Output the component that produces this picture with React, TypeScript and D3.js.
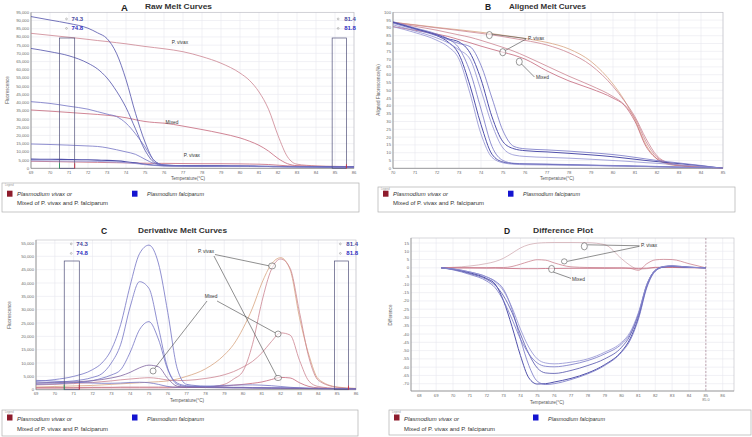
import React from "react";
import * as d3 from "d3";

const FONT = "'Liberation Sans', Arial, Helvetica, sans-serif";

// ---------------- Panel A: Raw Melt Curves (fluorescence, thousands) ----------------
const tempA = [69, 70, 71, 72, 72.5, 73, 73.5, 74, 74.5, 75, 75.5, 76, 77, 78, 79, 80, 80.5, 81, 81.5, 82, 82.5, 83, 84, 85, 86];
const rawFal1 = [92.4, 90.3, 88.2, 85.3, 82.5, 79, 70, 54, 33.5, 16, 4.5, 2.0, 1.6, 1.5, 1.4, 1.3, 1.3, 1.2, 1.2, 1.1, 1.1, 1.0, 0.9, 0.8, 0.8];
const rawFal2 = [73, 71, 68.5, 64, 60.5, 55, 47, 37, 24, 11, 3.5, 1.9, 1.5, 1.4, 1.3, 1.3, 1.2, 1.2, 1.1, 1.1, 1.0, 1.0, 0.9, 0.8, 0.8];
const rawFal3 = [40.6, 39.5, 37.8, 36, 34.5, 33, 31.5, 27.5, 21, 13, 4.5, 2, 1.6, 1.5, 1.4, 1.3, 1.3, 1.2, 1.2, 1.1, 1.1, 1.0, 0.9, 0.8, 0.8];
const rawFal4 = [14.8, 14.5, 14.1, 13.6, 13.3, 12.5, 11.3, 10, 8.5, 5.5, 2.8, 1.8, 1.5, 1.4, 1.3, 1.3, 1.2, 1.2, 1.1, 1.1, 1.0, 1.0, 0.9, 0.8, 0.8];
const rawFal5 = [5.6, 5.5, 5.4, 5.2, 5.0, 4.8, 4.5, 4.0, 3.3, 2.5, 1.9, 1.6, 1.4, 1.3, 1.3, 1.2, 1.2, 1.1, 1.1, 1.0, 1.0, 0.9, 0.9, 0.8, 0.7];
const rawFal6 = [4.6, 4.5, 4.4, 4.3, 4.2, 4.0, 3.8, 3.4, 2.9, 2.2, 1.7, 1.4, 1.2, 1.2, 1.1, 1.1, 1.1, 1.0, 1.0, 1.0, 0.9, 0.9, 0.8, 0.7, 0.7];
const rawViv1 = [82.2, 81, 79.8, 78.5, 77.8, 77.2, 76.5, 75.8, 75, 74.2, 73.5, 72.8, 71, 68, 64, 58, 53.5, 46.5, 36, 20, 7, 2.5, 1.5, 1.2, 1.0];
const rawMix1 = [35.5, 34.8, 34, 33.2, 32.8, 32.3, 31.7, 30.8, 29.6, 28.5, 27.9, 27.5, 25.7, 23.6, 21.3, 18.5, 16.5, 14, 10.5, 6, 2.8, 1.6, 1.2, 1.0, 0.9];
const rawViv2 = [4.3, 4.1, 3.9, 3.7, 3.6, 3.5, 3.4, 3.3, 3.2, 3.1, 3.0, 3.0, 2.9, 2.8, 2.8, 2.7, 2.6, 2.5, 2.3, 1.9, 1.5, 1.3, 1.1, 1.0, 0.9];
const xTicksA = [69, 70, 71, 72, 73, 74, 75, 76, 77, 78, 79, 80, 81, 82, 83, 84, 85, 86];
const yTicksA = [0, 5, 10, 15, 20, 25, 30, 35, 40, 45, 50, 55, 60, 65, 70, 75, 80, 85, 90, 95];

// ---------------- Panel B: Aligned Melt Curves (%) ----------------
const tempB = [70, 71, 72, 72.5, 73, 73.5, 74, 74.5, 75, 75.5, 76, 77, 78, 79, 80, 80.5, 81, 81.5, 82, 82.5, 83, 84, 85];
const aliFal1 = [93.6, 89.5, 85, 81, 73, 53, 28, 9, 4, 3, 2.7, 2.5, 2.2, 1.9, 1.6, 1.5, 1.3, 1.2, 1.0, 0.9, 0.7, 0.4, 0];
const aliFal2 = [94, 90, 86, 83, 77, 62, 38, 14, 5, 3.2, 2.9, 2.7, 2.4, 2.1, 1.8, 1.7, 1.5, 1.4, 1.2, 1.0, 0.8, 0.4, 0];
const aliFal3 = [90.8, 87, 82, 78, 70, 48, 22, 7, 3.5, 2.6, 2.3, 2.1, 1.9, 1.7, 1.5, 1.4, 1.2, 1.1, 0.9, 0.8, 0.6, 0.3, 0];
const aliFal4 = [93.6, 89.5, 85.5, 83, 81, 74, 57, 33, 17, 12.5, 11.3, 10.5, 9.6, 8.6, 7.4, 6.6, 5.8, 5, 4.3, 3.6, 3, 1.6, 0];
const aliFal5 = [93, 89, 85, 82.5, 80, 78, 66, 45, 24, 14, 12.5, 11.8, 11, 10, 8.8, 8, 7, 6, 5, 4.2, 3.4, 1.8, 0];
const aliFal6 = [92, 88, 83.5, 80.5, 76, 70, 50, 28, 13, 8.5, 7.6, 7, 6.5, 5.8, 5, 4.6, 4.1, 3.6, 3.2, 2.7, 2.2, 1.2, 0];
const aliViv1 = [93.6, 92, 90.3, 89.5, 88.8, 88, 87.2, 86.3, 85.3, 84.3, 83.2, 80.7, 76.5, 68.5, 54, 44, 31, 15, 6, 2.6, 1.6, 0.8, 0];
const aliViv2 = [93.6, 91.8, 90, 89.2, 88.3, 87.4, 86.5, 85.5, 84.4, 83.2, 82, 79, 74, 66, 52.5, 43.5, 33, 19, 8, 3.5, 2, 1, 0];
const aliMix1 = [90.8, 88.5, 86, 84.5, 82.5, 80.5, 78.3, 76.3, 74.4, 72.5, 70, 62.4, 56, 51, 45, 40.6, 30, 14, 6, 3, 1.8, 0.9, 0];
const aliMix2 = [93.6, 91, 88.5, 87, 85.5, 84, 82, 79.8, 77.5, 75, 72, 65.5, 59, 53, 46, 41, 32, 17, 7, 3.5, 2, 1, 0];
const xTicksB = [70, 71, 72, 73, 74, 75, 76, 77, 78, 79, 80, 81, 82, 83, 84, 85];
const yTicksB = [0, 5, 10, 15, 20, 25, 30, 35, 40, 45, 50, 55, 60, 65, 70, 75, 80, 85, 90, 95, 100];

// ---------------- Panel C: Derivative Melt Curves (thousands) ----------------
const tempC = [69, 70, 71, 72, 72.5, 73, 73.5, 74, 74.5, 75, 75.5, 76, 76.5, 77, 78, 79, 79.5, 80, 80.5, 81, 81.5, 82, 82.5, 83, 83.5, 84, 85, 86];
const derFal1 = [3.1, 3.8, 5, 7.5, 10, 15, 24.5, 39, 51, 54.2, 47.5, 29, 8, 2, 1.3, 1.0, 0.9, 0.9, 0.8, 0.8, 0.7, 0.7, 0.6, 0.6, 0.5, 0.5, 0.4, 0.3];
const derFal2 = [2.5, 2.8, 3.3, 4.6, 6, 10, 17, 31, 40.5, 38, 23.5, 8, 2.5, 1.5, 1.1, 0.9, 0.8, 0.8, 0.7, 0.7, 0.6, 0.6, 0.6, 0.5, 0.5, 0.5, 0.4, 0.3];
const derFal3 = [2.0, 2.2, 2.6, 3.4, 4.3, 5.5, 7.5, 14, 22.5, 25.5, 19, 7.5, 2, 1.2, 0.9, 0.8, 0.7, 0.7, 0.7, 0.6, 0.6, 0.6, 0.5, 0.5, 0.5, 0.4, 0.4, 0.3];
const derFal4 = [2.5, 2.6, 2.9, 3.4, 3.8, 4.4, 5.2, 6.5, 8.2, 9.2, 8.6, 4.2, 1.3, 0.9, 0.8, 0.7, 0.7, 0.7, 0.6, 0.6, 0.6, 0.5, 0.5, 0.5, 0.4, 0.4, 0.3, 0.3];
const derFal5 = [3.5, 3.2, 2.8, 2.5, 2.4, 2.4, 2.5, 2.7, 2.8, 2.6, 2.0, 1.2, 0.9, 1.0, 1.3, 1.6, 1.7, 1.8, 1.8, 1.7, 1.5, 1.2, 0.9, 0.7, 0.5, 0.4, 0.3, 0.2];
const derViv1 = [1.0, 1.2, 1.4, 1.6, 1.8, 2.0, 2.2, 2.4, 2.6, 2.8, 3.0, 3.3, 4, 5, 7.8, 13, 17, 23, 30.6, 40, 47, 49.5, 45, 27, 13, 4, 1.0, 0.5];
const derViv2 = [0.8, 0.8, 0.8, 0.9, 0.9, 0.9, 1.0, 1.0, 1.0, 1.0, 1.0, 1.0, 1.0, 1.0, 1.0, 2, 4, 7, 17, 33, 45, 49, 45.5, 29, 12, 3.5, 0.9, 0.4];
const derMix1 = [1.8, 2.0, 2.3, 2.7, 3.0, 3.3, 3.7, 4.0, 4.3, 4.5, 4.2, 3.6, 3.4, 3.5, 4.2, 5.6, 6.8, 8.5, 10.6, 13.8, 18, 21.3, 20.5, 11, 3.2, 1.2, 0.5, 0.3];
const derViv3 = [0.6, 0.6, 0.6, 0.7, 0.7, 0.7, 0.7, 0.7, 0.7, 0.7, 0.7, 0.7, 0.8, 0.8, 1.0, 1.4, 1.7, 2.0, 2.4, 2.9, 3.8, 4.6, 4.4, 2.6, 1.2, 0.7, 0.4, 0.3];
const xTicksC = [69, 70, 71, 72, 73, 74, 75, 76, 77, 78, 79, 80, 81, 82, 83, 84, 85, 86];
const yTicksC = [0, 5, 10, 15, 20, 25, 30, 35, 40, 45, 50, 55];

// ---------------- Panel D: Difference Plot ----------------
const tempD = [69.3, 70, 71, 72, 72.5, 73, 73.5, 74, 74.5, 75, 75.5, 76, 77, 78, 79, 80, 80.5, 81, 81.5, 82, 82.5, 83, 84, 85];
const difFal1 = [0, -0.8, -3, -6.5, -9.8, -20, -35.5, -53, -66.5, -70.2, -70, -69, -66.8, -63.5, -58.5, -50.5, -43, -30, -11, -1.5, 0.5, 0.8, 0.3, 0];
const difFal2 = [0, -0.6, -2.5, -5.5, -8, -13, -25, -43, -59, -68.5, -70.5, -70, -67.5, -64, -59, -51, -44, -31, -12, -2, 0.5, 1, 0.3, 0];
const difFal3 = [0, -1, -3.5, -7, -10.5, -17, -27, -40, -52, -60.5, -63.5, -63.8, -62, -59, -55, -48, -41, -28, -10, -1.5, 0.8, 1.2, 0.4, 0];
const difFal4 = [0, -1.2, -4, -8, -12, -20, -31, -43, -52, -57.5, -59.5, -59.8, -58.5, -56, -52, -46, -40, -28, -11, -2, 0.6, 1, 0.3, 0];
const difFal5 = [0, -0.7, -2.5, -5.5, -8.5, -14, -24, -37, -48, -55, -57.5, -58, -57, -55, -51, -45, -39, -27, -10, -1.5, 0.8, 1.2, 0.4, 0];
const difViv1 = [0, 0.3, 1.1, 2.6, 3.8, 5.8, 8.8, 12, 14, 14.9, 15.2, 15.3, 15.3, 15.2, 14, 5.5, 1.5, -0.8, -0.5, 0, 0.2, 0.2, 0.1, 0];
const difViv2 = [0, 0, 0.1, 0.1, 0.2, 0.2, 0.8, 2.2, 3.8, 4.9, 4.6, 3, 0.6, 0.2, 0.1, 0, -0.3, -1.5, 2.5, 4.8, 5.1, 5.0, 2.5, 0];
const difMix1 = [0, 0, -0.1, -0.2, -0.2, -0.3, -0.4, -0.5, -0.5, -0.5, -0.4, -0.4, -0.3, -0.3, -0.3, -0.2, -0.2, -0.3, -0.2, 0.3, 0.3, 0.2, 0.1, 0];
const xTicksD = [68, 69, 70, 71, 72, 73, 74, 75, 76, 77, 78, 79, 80, 81, 82, 83, 84, 85, 86];
const yTicksD = [15, 10, 5, 0, -5, -10, -15, -20, -25, -30, -35, -40, -45, -50, -55, -60, -65, -70];
const refLineD = [85.0];

// Tm markers and normalisation regions
const tmLeft = ["74.3", "74.8"];
const tmRight = ["81.4", "81.8"];
const regions = [[70.5, 71.3], [84.85, 85.6]];

const legendRed = ["Plasmodium vivax or", "Mixed of P. vivax and P. falciparum"];
const legendBlue = "Plasmodium falciparum";

const BLUE = "#5050aa";
const BLUE2 = "#7474c4";
const BLUE3 = "#9090d2";
const RED = "#c4667a";
const RED2 = "#cc8490";
const ORANGE = "#d8a580";
const PINK = "#d2adb4";

type S = { xs: number[]; ys: number[]; c: string; w?: number };

type PanelProps = {
  id: string;
  frame: { x0: number; x1: number; y0: number; y1: number };
  xDomain: number[]; xRange: number[];
  yDomain: number[]; yRange: number[];
  xTicks: number[]; yTicks: number[];
  yFmt: (v: number) => string;
  series: S[];
  extras?: (x: d3.ScaleLinear<number, number>, y: d3.ScaleLinear<number, number>) => React.ReactNode;
};

function Panel(p: PanelProps) {
  const x = d3.scaleLinear().domain(p.xDomain).range(p.xRange);
  const y = d3.scaleLinear().domain(p.yDomain).range(p.yRange);
  const f = p.frame;
  const mk = (s: S) =>
    d3.line<number>().x((_, i) => x(s.xs[i])).y((d) => y(d)).curve(d3.curveMonotoneX)(s.ys) || "";
  return (
    <g>
      <defs>
        <clipPath id={"clip" + p.id}>
          <rect x={f.x0} y={f.y0} width={f.x1 - f.x0} height={f.y1 - f.y0} />
        </clipPath>
      </defs>
      <rect x={f.x0} y={f.y0} width={f.x1 - f.x0} height={f.y1 - f.y0} fill="#fff" />
      {p.xTicks.map((t) => (
        <line key={"gx" + t} x1={x(t)} x2={x(t)} y1={f.y0} y2={f.y1} stroke="#e8e8ee" strokeWidth={0.6} />
      ))}
      {p.yTicks.map((t) => (
        <line key={"gy" + t} x1={f.x0} x2={f.x1} y1={y(t)} y2={y(t)} stroke="#e8e8ee" strokeWidth={0.6} />
      ))}
      <rect x={f.x0} y={f.y0} width={f.x1 - f.x0} height={f.y1 - f.y0} fill="none" stroke="#bcbcc4" strokeWidth={0.6} />
      <line x1={f.x0} x2={f.x1} y1={f.y1} y2={f.y1} stroke="#8a8a8a" strokeWidth={0.7} />
      <line x1={f.x0} x2={f.x0} y1={f.y0} y2={f.y1} stroke="#8a8a8a" strokeWidth={0.7} />
      {p.xTicks.map((t) => (
        <text key={"tx" + t} x={x(t)} y={f.y1 + 5.6} fontSize={4.2} fill="#6a6a6a" textAnchor="middle" fontFamily={FONT}>
          {t}
        </text>
      ))}
      {p.yTicks.map((t) => (
        <text key={"ty" + t} x={f.x0 - 2} y={y(t) + 1.5} fontSize={4.2} fill="#6a6a6a" textAnchor="end" fontFamily={FONT}>
          {p.yFmt(t)}
        </text>
      ))}
      <g clipPath={`url(#clip${p.id})`}>
        {p.series.map((s, i) => (
          <path key={i} d={mk(s)} fill="none" stroke={s.c} strokeWidth={s.w ?? 0.8} />
        ))}
      </g>
      {p.extras ? p.extras(x, y) : null}
    </g>
  );
}

function Legend({ x, y, w, h, sq, t1y, t2y, bx }: { x: number; y: number; w: number; h: number; sq: number; t1y: number; t2y: number; bx: number }) {
  return (
    <g fontFamily={FONT}>
      <rect x={x} y={y} width={w} height={h} fill="#fff" stroke="#b0b0b0" strokeWidth={0.7} />
      <text x={x + 3} y={y + 2.6} fontSize={2.6} fill="#999">Legend</text>
      <rect x={x + 5} y={sq} width={5.5} height={6} fill="#8e1c2c" />
      <text x={x + 15} y={t1y} fontSize={4.8} fontStyle="italic" fill="#333" textLength={55} lengthAdjust="spacingAndGlyphs">
        {legendRed[0]}
      </text>
      <text x={x + 15} y={t2y} fontSize={4.8} fill="#333" textLength={91} lengthAdjust="spacingAndGlyphs">
        {legendRed[1]}
      </text>
      <rect x={x + bx} y={sq} width={5.5} height={6} fill="#1414d0" />
      <text x={x + bx + 15} y={t1y} fontSize={4.8} fontStyle="italic" fill="#333" textLength={57} lengthAdjust="spacingAndGlyphs">
        {legendBlue}
      </text>
    </g>
  );
}

function Oval({ cx, cy, rx = 3, ry = 3.6 }: { cx: number; cy: number; rx?: number; ry?: number }) {
  return <ellipse cx={cx} cy={cy} rx={rx} ry={ry} fill="#fff" fillOpacity={0.6} stroke="#555" strokeWidth={0.6} />;
}

function TmMarks({ x, top, bottom, yl }: { x: d3.ScaleLinear<number, number>; top: number; bottom: number; yl: number }) {
  return (
    <g fontFamily={FONT}>
      {regions.map((r, i) => (
        <rect key={i} x={x(r[0])} y={top} width={x(r[1]) - x(r[0])} height={bottom - top} fill="none" stroke="#50507a" strokeWidth={0.7} />
      ))}
      <line x1={x(regions[0][0])} x2={x(regions[0][0])} y1={bottom - 5} y2={bottom} stroke="#2a9a5a" strokeWidth={0.9} />
      <line x1={x(regions[0][1])} x2={x(regions[0][1])} y1={bottom - 5} y2={bottom} stroke="#d03040" strokeWidth={0.9} />
      <line x1={x(regions[1][1])} x2={x(regions[1][1])} y1={bottom - 4} y2={bottom} stroke="#d03040" strokeWidth={0.9} />
      {tmLeft.map((t, i) => (
        <g key={t}>
          <circle cx={x(regions[0][0]) + 7} cy={yl + i * 9.5 - 1.6} r={0.9} fill="none" stroke="#888" strokeWidth={0.5} />
          <text x={x(regions[0][0]) + 12} y={yl + i * 9.5} fontSize={6} fontWeight="bold" fill={i === 0 ? "#4a4aa0" : "#3030c0"}>{t}</text>
        </g>
      ))}
      {tmRight.map((t, i) => (
        <g key={t}>
          <circle cx={x(regions[1][0]) + 6} cy={yl + i * 9.5 - 1.6} r={0.9} fill="none" stroke="#888" strokeWidth={0.5} />
          <text x={x(regions[1][0]) + 12} y={yl + i * 9.5} fontSize={6} fontWeight="bold" fill={i === 0 ? "#4a4aa0" : "#3030c0"}>{t}</text>
        </g>
      ))}
    </g>
  );
}

const annoFont = { fontFamily: FONT, fontSize: 4.8, fill: "#333" } as const;

export default function App() {
  const seriesA: S[] = [
    { xs: tempA, ys: rawViv1, c: RED2 },
    { xs: tempA, ys: rawMix1, c: RED },
    { xs: tempA, ys: rawViv2, c: RED },
    { xs: tempA, ys: rawFal1, c: BLUE },
    { xs: tempA, ys: rawFal2, c: BLUE },
    { xs: tempA, ys: rawFal3, c: BLUE2 },
    { xs: tempA, ys: rawFal4, c: BLUE2 },
    { xs: tempA, ys: rawFal5, c: BLUE, w: 1.1 },
    { xs: tempA, ys: rawFal6, c: BLUE3 },
  ];
  const seriesB: S[] = [
    { xs: tempB, ys: aliViv1, c: ORANGE },
    { xs: tempB, ys: aliViv2, c: RED2 },
    { xs: tempB, ys: aliMix1, c: RED },
    { xs: tempB, ys: aliMix2, c: RED2 },
    { xs: tempB, ys: aliFal1, c: BLUE, w: 1 },
    { xs: tempB, ys: aliFal2, c: BLUE2 },
    { xs: tempB, ys: aliFal3, c: BLUE3 },
    { xs: tempB, ys: aliFal4, c: BLUE, w: 1 },
    { xs: tempB, ys: aliFal5, c: BLUE2 },
    { xs: tempB, ys: aliFal6, c: BLUE3 },
  ];
  const seriesC: S[] = [
    { xs: tempC, ys: derViv1, c: ORANGE },
    { xs: tempC, ys: derViv2, c: RED2 },
    { xs: tempC, ys: derMix1, c: RED2 },
    { xs: tempC, ys: derViv3, c: RED },
    { xs: tempC, ys: derFal5, c: BLUE2 },
    { xs: tempC, ys: derFal1, c: BLUE2 },
    { xs: tempC, ys: derFal2, c: BLUE2 },
    { xs: tempC, ys: derFal3, c: BLUE2 },
    { xs: tempC, ys: derFal4, c: "#7e62a0" },
  ];
  const seriesD: S[] = [
    { xs: tempD, ys: difViv1, c: PINK },
    { xs: tempD, ys: difViv2, c: RED2 },
    { xs: tempD, ys: difMix1, c: RED },
    { xs: tempD, ys: difFal1, c: BLUE, w: 1 },
    { xs: tempD, ys: difFal2, c: BLUE2 },
    { xs: tempD, ys: difFal3, c: BLUE },
    { xs: tempD, ys: difFal4, c: BLUE2 },
    { xs: tempD, ys: difFal5, c: BLUE3 },
  ];
  const fmtK = (v: number) => d3.format(",")(v * 1000);

  return (
    <svg width={752} height={437} viewBox="0 0 752 437" style={{ display: "block", position: "absolute", left: 0, top: 0, background: "#fff" }}>
      <rect x={0} y={0} width={752} height={437} fill="#fff" />
      {/* Panel A */}
      <text x={121} y={10.5} fontSize={9.5} fontWeight="bold" fontFamily={FONT} fill="#222">A</text>
      <text x={145} y={8.6} fontSize={7} fontWeight="bold" fontFamily={FONT} fill="#333" textLength={67} lengthAdjust="spacingAndGlyphs">Raw Melt Curves</text>
      <Panel
        id="A"
        frame={{ x0: 31, x1: 354, y0: 12.3, y1: 168.3 }}
        xDomain={[69, 86]} xRange={[31, 354]}
        yDomain={[0, 95]} yRange={[168.3, 12.3]}
        xTicks={xTicksA} yTicks={yTicksA} yFmt={fmtK}
        series={seriesA}
        extras={(x, y) => (
          <g>
            <TmMarks x={x} top={38} bottom={168.3} yl={20.5} />
            <text {...annoFont} x={x(76.84)} y={y(75.7)} textAnchor="middle">P. vivax</text>
            <text {...annoFont} x={x(76.42)} y={y(27)} textAnchor="middle">Mixed</text>
            <text {...annoFont} x={x(77.47)} y={y(6.9)} textAnchor="middle">P. vivax</text>
          </g>
        )}
      />
      <text x={188} y={179.5} fontSize={4.6} fontFamily={FONT} fill="#555" textAnchor="middle">Temperature(°C)</text>
      <text transform="translate(8.5,90) rotate(-90)" fontSize={4.6} fontFamily={FONT} fill="#555" textAnchor="middle">Fluorescence</text>
      <Legend x={2} y={183} w={357} h={29} sq={190.7} t1y={196} t2y={204.5} bx={130} />

      {/* Panel B */}
      <text x={485} y={9.5} fontSize={8.5} fontWeight="bold" fontFamily={FONT} fill="#222">B</text>
      <text x={509} y={8.6} fontSize={7} fontWeight="bold" fontFamily={FONT} fill="#333" textLength={77} lengthAdjust="spacingAndGlyphs">Aligned Melt Curves</text>
      <Panel
        id="B"
        frame={{ x0: 393, x1: 723, y0: 12.3, y1: 168.3 }}
        xDomain={[70, 85]} xRange={[393, 723]}
        yDomain={[0, 100]} yRange={[168.3, 12.3]}
        xTicks={xTicksB} yTicks={yTicksB} yFmt={(v) => String(v)}
        series={seriesB}
        extras={(x, y) => (
          <g>
            <line x1={x(74.38) + 2} y1={y(85.4) - 1} x2={x(76.14) - 2} y2={y(82.2) - 1.5} stroke="#444" strokeWidth={0.6} />
            <line x1={x(74.99) + 2} y1={y(74.4) - 1.5} x2={x(76.14) - 2} y2={y(82.2) - 1} stroke="#444" strokeWidth={0.6} />
            <line x1={x(75.74) + 2} y1={y(68.3) + 2} x2={x(76.5) - 1.5} y2={y(57.2) - 2} stroke="#444" strokeWidth={0.6} />
            <Oval cx={x(74.38)} cy={y(85.4)} />
            <Oval cx={x(74.99)} cy={y(74.4)} />
            <Oval cx={x(75.74)} cy={y(68.3)} />
            <text {...annoFont} x={x(76.14)} y={y(82.2)}>P. vivax</text>
            <text {...annoFont} x={x(76.5)} y={y(57.2)}>Mixed</text>
          </g>
        )}
      />
      <text x={557} y={179.5} fontSize={4.6} fontFamily={FONT} fill="#555" textAnchor="middle">Temperature(°C)</text>
      <text transform="translate(380,90) rotate(-90)" fontSize={4.6} fontFamily={FONT} fill="#555" textAnchor="middle">Aligned Fluorescence(%)</text>
      <Legend x={378} y={187} w={357} h={25} sq={190.7} t1y={196} t2y={204.5} bx={130} />

      {/* Panel C */}
      <text x={101} y={233.5} fontSize={8.5} fontWeight="bold" fontFamily={FONT} fill="#222">C</text>
      <text x={138} y={232.5} fontSize={7} fontWeight="bold" fontFamily={FONT} fill="#333" textLength={89} lengthAdjust="spacingAndGlyphs">Derivative Melt Curves</text>
      <Panel
        id="C"
        frame={{ x0: 36, x1: 356, y0: 240, y1: 389.7 }}
        xDomain={[69, 86]} xRange={[36, 356]}
        yDomain={[0, 55]} yRange={[389.7, 243]}
        xTicks={xTicksC} yTicks={yTicksC} yFmt={fmtK}
        series={seriesC}
        extras={(x, y) => (
          <g>
            <TmMarks x={x} top={261} bottom={389.7} yl={245.5} />
            <line x1={x(78.03) + 9} y1={y(51.25) + 1.5} x2={x(81.54) - 2.5} y2={y(46.4)} stroke="#444" strokeWidth={0.6} />
            <line x1={x(78.03) + 8} y1={y(51.25) + 3} x2={x(81.86) - 1.5} y2={y(4.39) - 2} stroke="#444" strokeWidth={0.6} />
            <line x1={x(78.3) - 4} y1={y(34.38) + 3} x2={x(75.22) + 1.5} y2={y(7.01) - 2.5} stroke="#444" strokeWidth={0.6} />
            <line x1={x(78.3) + 6} y1={y(34.38) + 3} x2={x(81.86) - 2.5} y2={y(20.88) - 1} stroke="#444" strokeWidth={0.6} />
            <Oval cx={x(81.54)} cy={y(46.4)} rx={3.5} ry={3} />
            <Oval cx={x(81.86)} cy={y(4.39)} rx={3.5} ry={2.6} />
            <Oval cx={x(75.22)} cy={y(7.01)} rx={3} ry={3} />
            <Oval cx={x(81.86)} cy={y(20.88)} rx={3} ry={3} />
            <text {...annoFont} x={x(78.03)} y={y(51.25)} textAnchor="middle">P. vivax</text>
            <text {...annoFont} x={x(78.3)} y={y(34.38)} textAnchor="middle">Mixed</text>
          </g>
        )}
      />
      <text x={187} y={402} fontSize={4.6} fontFamily={FONT} fill="#555" textAnchor="middle">Temperature(°C)</text>
      <text transform="translate(11,315) rotate(-90)" fontSize={4.6} fontFamily={FONT} fill="#555" textAnchor="middle">Fluorescence</text>
      <Legend x={2} y={410} w={356} h={26} sq={414.5} t1y={420.5} t2y={430.5} bx={130} />

      {/* Panel D */}
      <text x={504} y={233.5} fontSize={8.5} fontWeight="bold" fontFamily={FONT} fill="#222">D</text>
      <text x={533} y={232.5} fontSize={7} fontWeight="bold" fontFamily={FONT} fill="#333" textLength={60} lengthAdjust="spacingAndGlyphs">Difference Plot</text>
      <Panel
        id="D"
        frame={{ x0: 411, x1: 734, y0: 238, y1: 391 }}
        xDomain={[68, 86]} xRange={[419.3, 722.7]}
        yDomain={[-70, 15]} yRange={[383.7, 243]}
        xTicks={xTicksD} yTicks={yTicksD} yFmt={(v) => String(v)}
        series={seriesD}
        extras={(x, y) => (
          <g>
            {refLineD.map((t) => (
              <g key={t}>
                <line x1={x(t)} x2={x(t)} y1={238} y2={391} stroke="#9a7080" strokeWidth={0.6} strokeDasharray="2,1.5" />
                <text x={x(t)} y={401} fontSize={3.8} fontFamily={FONT} fill="#777" textAnchor="middle">{t.toFixed(1)}</text>
              </g>
            ))}
            <line x1={x(81.15) - 1.5} y1={y(12.4) - 1.5} x2={x(77.79) + 3} y2={y(13.0) - 1.5} stroke="#444" strokeWidth={0.6} />
            <line x1={x(81.15) - 1.5} y1={y(12.4) - 1} x2={x(76.6) + 3} y2={y(3.9)} stroke="#444" strokeWidth={0.6} />
            <line x1={x(77.06) - 1} y1={y(-8.2) - 3} x2={x(75.85) + 1.5} y2={y(-0.7) + 3} stroke="#444" strokeWidth={0.6} />
            <Oval cx={x(77.79)} cy={y(13.0)} />
            <Oval cx={x(76.6)} cy={y(3.9)} rx={2.8} ry={2.6} />
            <Oval cx={x(75.85)} cy={y(-0.7)} />
            <text {...annoFont} x={x(81.15)} y={y(12.4)}>P. vivax</text>
            <text {...annoFont} x={x(77.06)} y={y(-8.2)}>Mixed</text>
          </g>
        )}
      />
      <text x={547} y={403.5} fontSize={4.6} fontFamily={FONT} fill="#555" textAnchor="middle">Temperature(°C)</text>
      <text transform="translate(392,315) rotate(-90)" fontSize={4.6} fontFamily={FONT} fill="#555" textAnchor="middle">Difference</text>
      <Legend x={389} y={410} w={362} h={25} sq={414.5} t1y={420.5} t2y={430.5} bx={144} />
    </svg>
  );
}
